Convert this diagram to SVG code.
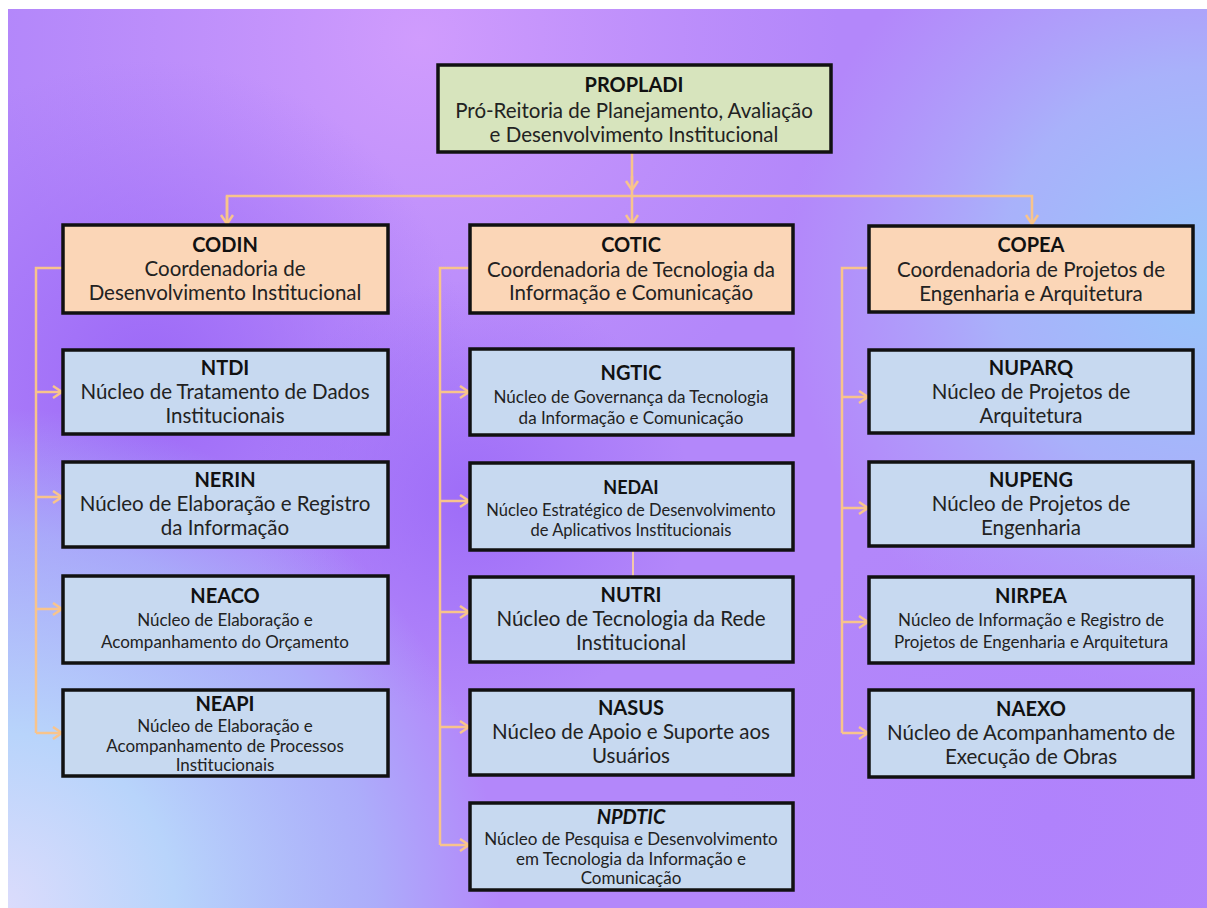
<svg xmlns="http://www.w3.org/2000/svg" width="1207" height="908" viewBox="0 0 1207 908">
<defs>
<radialGradient id="gBL" cx="0" cy="908" r="500" gradientUnits="userSpaceOnUse">
<stop offset="0" stop-color="#dcdcfc"/><stop offset="0.35" stop-color="#b8d4fb"/><stop offset="0.75" stop-color="#a8c6fa" stop-opacity="0.6"/><stop offset="1" stop-color="#a8c6fa" stop-opacity="0"/>
</radialGradient>
<radialGradient id="gR" cx="1207" cy="280" r="420" gradientUnits="userSpaceOnUse">
<stop offset="0" stop-color="#96c6fa"/><stop offset="0.5" stop-color="#a6bcfa" stop-opacity="0.8"/><stop offset="1" stop-color="#b0b0fa" stop-opacity="0"/>
</radialGradient>
<radialGradient id="gT" cx="420" cy="40" r="420" gradientUnits="userSpaceOnUse">
<stop offset="0" stop-color="#d09cfd"/><stop offset="1" stop-color="#c898fc" stop-opacity="0"/>
</radialGradient>
<radialGradient id="gP" cx="150" cy="380" r="320" gradientUnits="userSpaceOnUse">
<stop offset="0" stop-color="#9c68f7"/><stop offset="1" stop-color="#a070f8" stop-opacity="0"/>
</radialGradient>
<radialGradient id="gP2" cx="1050" cy="820" r="330" gradientUnits="userSpaceOnUse">
<stop offset="0" stop-color="#b082fc"/><stop offset="1" stop-color="#b082fc" stop-opacity="0"/>
</radialGradient>
<radialGradient id="gP3" cx="470" cy="500" r="220" gradientUnits="userSpaceOnUse">
<stop offset="0" stop-color="#9e6cf8"/><stop offset="1" stop-color="#a070f8" stop-opacity="0"/>
</radialGradient>
<marker id="arr" markerUnits="userSpaceOnUse" markerWidth="14" markerHeight="16" refX="11" refY="7" orient="auto">
<path d="M2,1 L11,7 L2,13" fill="none" stroke="#f8c48c" stroke-width="2.5"/>
</marker>
</defs>
<style>
.box{stroke:#111;stroke-width:3.5}
.g{fill:#d7e4bd}
.o{fill:#fbd6b7}
.b{fill:#c7d9f0}
text{font-family:Lato,"Open Sans","Liberation Sans",sans-serif;text-anchor:middle;fill:#222}
.t{font-weight:bold;font-size:20px;fill:#111}
.ts{font-weight:bold;font-size:18px;fill:#111}
.l{font-size:20.5px}
.s{font-size:17px}
.s2{font-size:16.5px}
.c{fill:none;stroke:#f8c48c;stroke-width:2.5}
</style>
<rect x="0" y="0" width="1207" height="908" fill="#fff"/>
<rect x="8" y="9" width="1199" height="899" fill="#b387fa"/>
<rect x="8" y="9" width="1199" height="899" fill="url(#gT)"/>
<rect x="8" y="9" width="1199" height="899" fill="url(#gP)"/>
<rect x="8" y="9" width="1199" height="899" fill="url(#gP3)"/>
<rect x="8" y="9" width="1199" height="899" fill="url(#gR)"/>
<rect x="8" y="9" width="1199" height="899" fill="url(#gP2)"/>
<rect x="8" y="9" width="1199" height="899" fill="url(#gBL)"/>

<g id="connectors">
<path class="c" d="M632,152 V224" marker-end="url(#arr)"/>
<path class="c" d="M632,176 V190" marker-end="url(#arr)"/>
<path class="c" d="M227,224 V196 H1032 V224" marker-end="url(#arr)"/>
<path class="c" d="M227,196 V224" marker-end="url(#arr)"/>
<path class="c" d="M63,268 H36 V733"/>
<path class="c" d="M36,392 H62" marker-end="url(#arr)"/>
<path class="c" d="M36,497 H62" marker-end="url(#arr)"/>
<path class="c" d="M36,609 H62" marker-end="url(#arr)"/>
<path class="c" d="M36,733 H62" marker-end="url(#arr)"/>
<path class="c" d="M470,268 H440 V845"/>
<path class="c" d="M440,392 H469" marker-end="url(#arr)"/>
<path class="c" d="M440,501 H469" marker-end="url(#arr)"/>
<path class="c" d="M440,612 H469" marker-end="url(#arr)"/>
<path class="c" d="M440,727 H469" marker-end="url(#arr)"/>
<path class="c" d="M440,845 H469" marker-end="url(#arr)"/>
<path class="c" d="M869,268 H842 V733"/>
<path class="c" d="M842,397 H868" marker-end="url(#arr)"/>
<path class="c" d="M842,508 H868" marker-end="url(#arr)"/>
<path class="c" d="M842,622 H868" marker-end="url(#arr)"/>
<path class="c" d="M842,733 H868" marker-end="url(#arr)"/>
<path d="M633,550 V577" fill="none" stroke="#f4c8a8" stroke-width="2"/>
</g>

<g id="PROPLADI">
<rect class="box g" x="438" y="65" width="393" height="87"/>
<text class="t" x="634" y="92">PROPLADI</text>
<text class="l" x="634" y="118">Pró-Reitoria de Planejamento, Avaliação</text>
<text class="l" x="634" y="142">e Desenvolvimento Institucional</text>
</g>

<g id="CODIN">
<rect class="box o" x="63" y="225" width="325" height="88"/>
<text class="t" x="225" y="252">CODIN</text>
<text class="l" x="225" y="276">Coordenadoria de</text>
<text class="l" x="225" y="300">Desenvolvimento Institucional</text>
</g>
<g id="NTDI">
<rect class="box b" x="63" y="350" width="325" height="84"/>
<text class="t" x="225" y="375">NTDI</text>
<text class="l" x="225" y="399">Núcleo de Tratamento de Dados</text>
<text class="l" x="225" y="423">Institucionais</text>
</g>
<g id="NERIN">
<rect class="box b" x="63" y="462" width="325" height="85"/>
<text class="t" x="225" y="487">NERIN</text>
<text class="l" x="225" y="511">Núcleo de Elaboração e Registro</text>
<text class="l" x="225" y="535">da Informação</text>
</g>
<g id="NEACO">
<rect class="box b" x="63" y="576" width="325" height="87"/>
<text class="t" x="225" y="603">NEACO</text>
<text class="s" x="225" y="626">Núcleo de Elaboração e</text>
<text class="s" x="225" y="648">Acompanhamento do Orçamento</text>
</g>
<g id="NEAPI">
<rect class="box b" x="63" y="690" width="325" height="86"/>
<text class="t" x="225" y="711">NEAPI</text>
<text class="s" x="225" y="732">Núcleo de Elaboração e</text>
<text class="s" x="225" y="752">Acompanhamento de Processos</text>
<text class="s" x="225" y="771">Institucionais</text>
</g>

<g id="COTIC">
<rect class="box o" x="470" y="225" width="323" height="88"/>
<text class="t" x="631" y="252">COTIC</text>
<text class="l" x="631" y="277">Coordenadoria de Tecnologia da</text>
<text class="l" x="631" y="300">Informação e Comunicação</text>
</g>
<g id="NGTIC">
<rect class="box b" x="470" y="349" width="323" height="86"/>
<text class="t" x="631" y="380">NGTIC</text>
<text class="s" x="631" y="403">Núcleo de Governança da Tecnologia</text>
<text class="s" x="631" y="424">da Informação e Comunicação</text>
</g>
<g id="NEDAI">
<rect class="box b" x="470" y="463" width="323" height="87"/>
<text class="ts" x="631" y="494">NEDAI</text>
<text class="s2" x="631" y="516">Núcleo Estratégico de Desenvolvimento</text>
<text class="s2" x="631" y="536">de Aplicativos Institucionais</text>
</g>
<g id="NUTRI">
<rect class="box b" x="470" y="577" width="323" height="85"/>
<text class="t" x="631" y="602">NUTRI</text>
<text class="l" x="631" y="626">Núcleo de Tecnologia da Rede</text>
<text class="l" x="631" y="650">Institucional</text>
</g>
<g id="NASUS">
<rect class="box b" x="470" y="690" width="323" height="85"/>
<text class="t" x="631" y="715">NASUS</text>
<text class="l" x="631" y="739">Núcleo de Apoio e Suporte aos</text>
<text class="l" x="631" y="763">Usuários</text>
</g>
<g id="NPDTIC">
<rect class="box b" x="470" y="803" width="323" height="87"/>
<text class="t" x="631" y="824" font-style="italic">NPDTIC</text>
<text class="s" x="631" y="845">Núcleo de Pesquisa e Desenvolvimento</text>
<text class="s" x="631" y="865">em Tecnologia da Informação e</text>
<text class="s" x="631" y="884">Comunicação</text>
</g>

<g id="COPEA">
<rect class="box o" x="869" y="226" width="324" height="86"/>
<text class="t" x="1031" y="252">COPEA</text>
<text class="l" x="1031" y="277">Coordenadoria de Projetos de</text>
<text class="l" x="1031" y="301">Engenharia e Arquitetura</text>
</g>
<g id="NUPARQ">
<rect class="box b" x="869" y="350" width="324" height="83"/>
<text class="t" x="1031" y="375">NUPARQ</text>
<text class="l" x="1031" y="399">Núcleo de Projetos de</text>
<text class="l" x="1031" y="423">Arquitetura</text>
</g>
<g id="NUPENG">
<rect class="box b" x="869" y="462" width="324" height="84"/>
<text class="t" x="1031" y="487">NUPENG</text>
<text class="l" x="1031" y="511">Núcleo de Projetos de</text>
<text class="l" x="1031" y="535">Engenharia</text>
</g>
<g id="NIRPEA">
<rect class="box b" x="869" y="577" width="324" height="86"/>
<text class="t" x="1031" y="603">NIRPEA</text>
<text class="s" x="1031" y="626">Núcleo de Informação e Registro de</text>
<text class="s" x="1031" y="648">Projetos de Engenharia e Arquitetura</text>
</g>
<g id="NAEXO">
<rect class="box b" x="869" y="690" width="324" height="87"/>
<text class="t" x="1031" y="716">NAEXO</text>
<text class="l" x="1031" y="740">Núcleo de Acompanhamento de</text>
<text class="l" x="1031" y="764">Execução de Obras</text>
</g>
</svg>
